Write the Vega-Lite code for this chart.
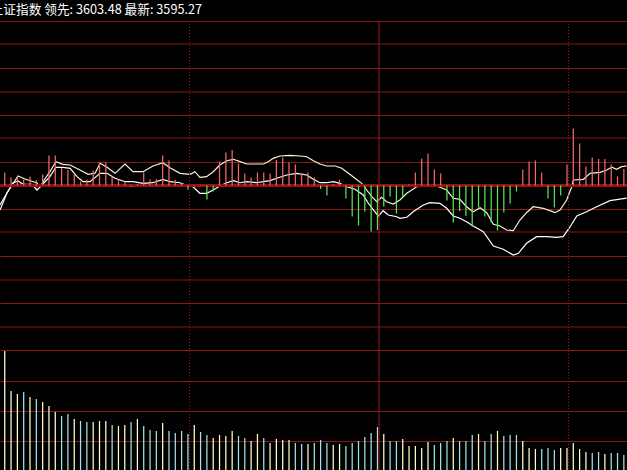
{
  "$schema": "https://vega.github.io/schema/vega-lite/v6.json",
  "autosize": "none",
  "width": 627,
  "height": 449,
  "padding": {"left": 0, "top": 21, "right": 0, "bottom": 0},
  "background": "#000000",
  "config": {"view": {"stroke": null}},
  "title": {"text": "上证指数 领先: 3603.48 最新: 3595.27", "anchor": "start", "dx": -7, "offset": -6, "baseline": "alphabetic", "fontSize": 12.7, "fontWeight": "normal", "font": "Noto Sans CJK SC", "color": "#ffffff"},
  "datasets": {
    "bars": [
      {"t":1.5,"s":13,"v":120,"d":"up"},{"t":3.5,"s":8,"v":80,"d":"up"},{"t":5.5,"s":9,"v":77,"d":"up"},{"t":7.5,"s":6,"v":79,"d":"down"},
      {"t":9.5,"s":9,"v":74,"d":"up"},{"t":11.5,"s":5.5,"v":72,"d":"down"},{"t":13.5,"s":11,"v":69,"d":"up"},{"t":15.5,"s":30,"v":65,"d":"up"},
      {"t":17.5,"s":30,"v":59,"d":"up"},{"t":19.5,"s":17.5,"v":55,"d":"down"},{"t":21.5,"s":15.5,"v":57,"d":"down"},{"t":23.5,"s":12,"v":52,"d":"up"},
      {"t":25.5,"s":4,"v":50,"d":"down"},{"t":27.5,"s":6,"v":49,"d":"down"},{"t":29.5,"s":15,"v":49,"d":"up"},{"t":31.5,"s":23,"v":50,"d":"up"},
      {"t":33.5,"s":23,"v":50,"d":"up"},{"t":35.5,"s":9,"v":46,"d":"down"},{"t":37.5,"s":6,"v":45,"d":"up"},{"t":39.5,"s":3,"v":46,"d":"up"},
      {"t":41.5,"s":-1,"v":49,"d":"down"},{"t":43.5,"s":1,"v":52,"d":"up"},{"t":45.5,"s":13,"v":45,"d":"down"},{"t":47.5,"s":6,"v":41,"d":"down"},
      {"t":49.5,"s":6.5,"v":40,"d":"down"},{"t":51.5,"s":30,"v":48,"d":"up"},{"t":53.5,"s":25,"v":40,"d":"down"},{"t":55.5,"s":5.5,"v":38,"d":"down"},
      {"t":57.5,"s":2,"v":40,"d":"down"},{"t":59.5,"s":-4,"v":37,"d":"down"},{"t":61.5,"s":0.5,"v":46,"d":"up"},{"t":63.5,"s":0.5,"v":39,"d":"down"},
      {"t":65.5,"s":-14,"v":36,"d":"down"},{"t":67.5,"s":-6,"v":33,"d":"up"},{"t":69.5,"s":24,"v":36,"d":"up"},{"t":71.5,"s":33,"v":35,"d":"up"},
      {"t":73.5,"s":35.5,"v":40,"d":"up"},{"t":75.5,"s":22,"v":35,"d":"down"},{"t":77.5,"s":12,"v":33,"d":"down"},{"t":79.5,"s":8,"v":30,"d":"up"},
      {"t":81.5,"s":13,"v":37,"d":"up"},{"t":83.5,"s":13,"v":33,"d":"down"},{"t":85.5,"s":12,"v":28,"d":"up"},{"t":87.5,"s":25.5,"v":32,"d":"up"},
      {"t":89.5,"s":28,"v":31,"d":"up"},{"t":91.5,"s":23,"v":31,"d":"up"},{"t":93.5,"s":21,"v":28,"d":"down"},{"t":95.5,"s":12,"v":27,"d":"down"},
      {"t":97.5,"s":13,"v":27,"d":"up"},{"t":99.5,"s":8,"v":28,"d":"down"},{"t":101.5,"s":-3.5,"v":31,"d":"down"},{"t":103.5,"s":-10,"v":28,"d":"down"},
      {"t":105.5,"s":1,"v":26,"d":"up"},{"t":107.5,"s":6,"v":27,"d":"up"},{"t":109.5,"s":-13,"v":25,"d":"down"},{"t":111.5,"s":-31,"v":28,"d":"down"},
      {"t":113.5,"s":-40,"v":30,"d":"down"},{"t":115.5,"s":-26,"v":34,"d":"down"},{"t":117.5,"s":-46,"v":38,"d":"down"},{"t":119.5,"s":-44.5,"v":44,"d":"down"},
      {"t":121.5,"s":-21,"v":37,"d":"up"},{"t":123.5,"s":-11,"v":30,"d":"down"},{"t":125.5,"s":-28,"v":30,"d":"down"},{"t":127.5,"s":-11,"v":32,"d":"up"},
      {"t":129.5,"s":1,"v":25,"d":"up"},{"t":131.5,"s":13,"v":25,"d":"up"},{"t":133.5,"s":27,"v":23,"d":"up"},{"t":135.5,"s":32,"v":29,"d":"up"},
      {"t":137.5,"s":16,"v":26,"d":"down"},{"t":139.5,"s":12,"v":28,"d":"down"},{"t":141.5,"s":-15,"v":30,"d":"down"},{"t":143.5,"s":-37,"v":33,"d":"up"},
      {"t":145.5,"s":-25.5,"v":30,"d":"down"},{"t":147.5,"s":-30.5,"v":30,"d":"down"},{"t":149.5,"s":-41,"v":36,"d":"down"},{"t":151.5,"s":-22,"v":37,"d":"up"},
      {"t":153.5,"s":-31,"v":30,"d":"down"},{"t":155.5,"s":-37,"v":37,"d":"down"},{"t":157.5,"s":-45,"v":40,"d":"up"},{"t":159.5,"s":-27,"v":35,"d":"down"},
      {"t":161.5,"s":-18,"v":36,"d":"down"},{"t":163.5,"s":-6,"v":36,"d":"down"},{"t":165.5,"s":16,"v":30,"d":"up"},{"t":167.5,"s":24,"v":23,"d":"up"},
      {"t":169.5,"s":25,"v":22,"d":"up"},{"t":171.5,"s":13,"v":22,"d":"down"},{"t":173.5,"s":-13,"v":23,"d":"down"},{"t":175.5,"s":-22,"v":21,"d":"down"},
      {"t":177.5,"s":-10,"v":23,"d":"up"},{"t":179.5,"s":21,"v":23,"d":"up"},{"t":181.5,"s":57,"v":28,"d":"up"},{"t":183.5,"s":42,"v":22,"d":"up"},
      {"t":185.5,"s":19,"v":19,"d":"up"},{"t":187.5,"s":28,"v":18,"d":"down"},{"t":189.5,"s":26.5,"v":19,"d":"down"},{"t":191.5,"s":26.5,"v":17,"d":"up"},
      {"t":193.5,"s":21,"v":18,"d":"down"},{"t":195.5,"s":9,"v":18,"d":"down"},{"t":197.5,"s":16.5,"v":16,"d":"down"}
    ],
    "lines": [
      {"t":0,"p":3593.52,"k":"领先"},{"t":2.2,"p":3596.59,"k":"领先"},{"t":5.7,"p":3600.93,"k":"领先"},{"t":7.9,"p":3600.16,"k":"领先"},
      {"t":11.7,"p":3599.14,"k":"领先"},{"t":12.7,"p":3598.19,"k":"领先"},{"t":14.2,"p":3600.16,"k":"领先"},{"t":15.8,"p":3602.02,"k":"领先"},
      {"t":17.7,"p":3604.58,"k":"领先"},{"t":19.9,"p":3603.91,"k":"领先"},{"t":22.2,"p":3603.73,"k":"领先"},{"t":25.3,"p":3602.46,"k":"领先"},
      {"t":27.9,"p":3601.36,"k":"领先"},{"t":30.1,"p":3601.61,"k":"领先"},{"t":31.7,"p":3604.17,"k":"领先"},{"t":33.9,"p":3603.15,"k":"领先"},
      {"t":36.4,"p":3601.61,"k":"领先"},{"t":39.6,"p":3603.99,"k":"领先"},{"t":42.1,"p":3602.02,"k":"领先"},{"t":45.3,"p":3602.02,"k":"领先"},
      {"t":48.4,"p":3603.48,"k":"领先"},{"t":51.6,"p":3604.32,"k":"领先"},{"t":53.8,"p":3603.04,"k":"领先"},{"t":57.0,"p":3601.61,"k":"领先"},
      {"t":60.2,"p":3601.36,"k":"领先"},{"t":61.7,"p":3602.02,"k":"领先"},{"t":63.3,"p":3600.59,"k":"领先"},{"t":65.4,"p":3600.75,"k":"领先"},
      {"t":67.5,"p":3602.02,"k":"领先"},{"t":69.6,"p":3603.73,"k":"领先"},{"t":71.8,"p":3604.83,"k":"领先"},{"t":73.9,"p":3605.19,"k":"领先"},
      {"t":76.0,"p":3604.58,"k":"领先"},{"t":78.1,"p":3603.99,"k":"领先"},{"t":83.4,"p":3603.99,"k":"领先"},{"t":84.9,"p":3604.58,"k":"领先"},
      {"t":86.5,"p":3605.44,"k":"领先"},{"t":88.6,"p":3606.03,"k":"领先"},{"t":91.8,"p":3606.21,"k":"领先"},{"t":95.0,"p":3606.03,"k":"领先"},
      {"t":97.1,"p":3605.85,"k":"领先"},{"t":99.2,"p":3604.83,"k":"领先"},{"t":101.3,"p":3603.99,"k":"领先"},{"t":103.4,"p":3603.48,"k":"领先"},
      {"t":106.1,"p":3603.48,"k":"领先"},{"t":108.2,"p":3602.89,"k":"领先"},{"t":110.3,"p":3601.61,"k":"领先"},{"t":112.4,"p":3600.34,"k":"领先"},
      {"t":114.5,"p":3599.06,"k":"领先"},{"t":116.1,"p":3597.35,"k":"领先"},{"t":117.7,"p":3595.64,"k":"领先"},{"t":119.3,"p":3594.36,"k":"领先"},
      {"t":120.8,"p":3595.49,"k":"领先"},{"t":122.4,"p":3594.36,"k":"领先"},{"t":124.5,"p":3593.78,"k":"领先"},{"t":126.6,"p":3594.8,"k":"领先"},
      {"t":128.8,"p":3596.51,"k":"领先"},{"t":131.9,"p":3598.19,"k":"领先"},{"t":135.1,"p":3598.37,"k":"领先"},{"t":138.3,"p":3598.37,"k":"领先"},
      {"t":141.4,"p":3597.35,"k":"领先"},{"t":143.5,"p":3595.23,"k":"领先"},{"t":145.6,"p":3594.98,"k":"领先"},{"t":147.7,"p":3593.09,"k":"领先"},
      {"t":149.8,"p":3591.81,"k":"领先"},{"t":152.0,"p":3592.83,"k":"领先"},{"t":154.1,"p":3591.56,"k":"领先"},{"t":156.2,"p":3588.59,"k":"领先"},
      {"t":158.3,"p":3588.16,"k":"领先"},{"t":160.4,"p":3587.14,"k":"领先"},{"t":162.5,"p":3586.96,"k":"领先"},{"t":164.6,"p":3589.69,"k":"领先"},
      {"t":166.7,"p":3591.56,"k":"领先"},{"t":168.8,"p":3593.09,"k":"领先"},{"t":172.0,"p":3592.68,"k":"领先"},{"t":174.1,"p":3592.07,"k":"领先"},
      {"t":175.7,"p":3591.56,"k":"领先"},{"t":177.3,"p":3592.25,"k":"领先"},{"t":179.4,"p":3594.8,"k":"领先"},{"t":181.0,"p":3598.19,"k":"领先"},
      {"t":181.5,"p":3599.9,"k":"领先"},{"t":184.7,"p":3600.08,"k":"领先"},{"t":186.8,"p":3601.61,"k":"领先"},{"t":190.0,"p":3601.87,"k":"领先"},
      {"t":192.1,"p":3602.46,"k":"领先"},{"t":193.7,"p":3603.15,"k":"领先"},{"t":195.2,"p":3602.64,"k":"领先"},{"t":196.8,"p":3603.3,"k":"领先"},
      {"t":198.4,"p":3603.48,"k":"领先"},
      {"t":0,"p":3592.25,"k":"最新"},{"t":2.2,"p":3596.59,"k":"最新"},{"t":4.1,"p":3599.14,"k":"最新"},{"t":5.7,"p":3599.65,"k":"最新"},
      {"t":7.3,"p":3598.81,"k":"最新"},{"t":10.1,"p":3598.81,"k":"最新"},{"t":11.7,"p":3597.35,"k":"最新"},{"t":13.3,"p":3598.63,"k":"最新"},
      {"t":15.8,"p":3600.75,"k":"最新"},{"t":17.7,"p":3603.15,"k":"最新"},{"t":19.9,"p":3603.15,"k":"最新"},{"t":22.2,"p":3602.89,"k":"最新"},
      {"t":24.4,"p":3600.75,"k":"最新"},{"t":26.3,"p":3599.47,"k":"最新"},{"t":28.5,"p":3599.47,"k":"最新"},{"t":31.7,"p":3601.61,"k":"最新"},
      {"t":33.9,"p":3601.61,"k":"最新"},{"t":36.4,"p":3600.34,"k":"最新"},{"t":39.6,"p":3599.47,"k":"最新"},{"t":42.1,"p":3599.47,"k":"最新"},
      {"t":45.3,"p":3599.06,"k":"最新"},{"t":48.4,"p":3599.21,"k":"最新"},{"t":51.6,"p":3600.08,"k":"最新"},{"t":53.8,"p":3599.47,"k":"最新"},
      {"t":57.0,"p":3599.21,"k":"最新"},{"t":59.5,"p":3598.37,"k":"最新"},{"t":61.1,"p":3598.19,"k":"最新"},{"t":63.3,"p":3596.51,"k":"最新"},
      {"t":65.4,"p":3596.51,"k":"最新"},{"t":67.5,"p":3597.35,"k":"最新"},{"t":69.6,"p":3598.37,"k":"最新"},{"t":71.8,"p":3599.21,"k":"最新"},
      {"t":73.9,"p":3599.73,"k":"最新"},{"t":76.0,"p":3599.21,"k":"最新"},{"t":78.1,"p":3599.47,"k":"最新"},{"t":81.3,"p":3599.21,"k":"最新"},
      {"t":83.4,"p":3599.47,"k":"最新"},{"t":85.5,"p":3599.73,"k":"最新"},{"t":87.6,"p":3600.34,"k":"最新"},{"t":90.8,"p":3601.18,"k":"最新"},
      {"t":93.9,"p":3601.61,"k":"最新"},{"t":97.1,"p":3601.18,"k":"最新"},{"t":99.2,"p":3600.08,"k":"最新"},{"t":101.3,"p":3599.21,"k":"最新"},
      {"t":103.4,"p":3599.21,"k":"最新"},{"t":105.5,"p":3599.47,"k":"最新"},{"t":107.6,"p":3599.06,"k":"最新"},{"t":109.8,"p":3598.19,"k":"最新"},
      {"t":112.4,"p":3597.53,"k":"最新"},{"t":115.0,"p":3596.07,"k":"最新"},{"t":116.6,"p":3593.96,"k":"最新"},{"t":118.2,"p":3592.25,"k":"最新"},
      {"t":119.8,"p":3590.71,"k":"最新"},{"t":121.3,"p":3592.07,"k":"最新"},{"t":122.9,"p":3590.97,"k":"最新"},{"t":125.6,"p":3590.53,"k":"最新"},
      {"t":126.6,"p":3590.13,"k":"最新"},{"t":128.8,"p":3590.38,"k":"最新"},{"t":130.8,"p":3591.81,"k":"最新"},{"t":134.0,"p":3593.52,"k":"最新"},
      {"t":136.1,"p":3594.11,"k":"最新"},{"t":139.3,"p":3593.96,"k":"最新"},{"t":141.4,"p":3592.68,"k":"最新"},{"t":143.5,"p":3590.71,"k":"最新"},
      {"t":145.6,"p":3590.13,"k":"最新"},{"t":147.7,"p":3589.26,"k":"最新"},{"t":149.8,"p":3588.16,"k":"最新"},{"t":153.0,"p":3586.7,"k":"最新"},
      {"t":156.2,"p":3583.05,"k":"最新"},{"t":159.3,"p":3582.21,"k":"最新"},{"t":162.5,"p":3580.76,"k":"最新"},{"t":164.1,"p":3581.19,"k":"最新"},
      {"t":166.7,"p":3583.74,"k":"最新"},{"t":169.9,"p":3585.43,"k":"最新"},{"t":173.1,"p":3585.43,"k":"最新"},{"t":176.2,"p":3585.27,"k":"最新"},
      {"t":178.3,"p":3585.43,"k":"最新"},{"t":180.5,"p":3587.98,"k":"最新"},{"t":182.6,"p":3590.71,"k":"最新"},{"t":185.7,"p":3591.81,"k":"最新"},
      {"t":188.9,"p":3593.09,"k":"最新"},{"t":193.1,"p":3594.62,"k":"最新"},{"t":198.4,"p":3595.27,"k":"最新"}
    ]
  },
  "layer": [
    {
      "layer": [
        {
          "data": {"name": "lines"},
          "mark": {"type": "line", "strokeWidth": 1.2, "interpolate": "linear"},
          "encoding": {
            "x": {"field": "t", "type": "quantitative", "scale": {"domain": [0, 198.5], "nice": false, "zero": false}, "axis": null},
            "y": {"field": "p", "type": "quantitative", "scale": {"domain": [3556.5, 3640.5], "range": [329, 0], "nice": false, "zero": false},
                  "axis": {"values": [3556.5,3568.5,3580.5,3592.5,3604.5,3616.5,3628.5,3640.5],
                           "grid": true, "gridColor": "#8a1616", "gridWidth": 1, "labels": false, "ticks": false, "domain": false, "title": null}},
            "color": {"field": "k", "type": "nominal", "scale": {"domain": ["领先", "最新"], "range": ["#f6f6d0", "#ffffff"]}, "legend": null},
            "detail": {"field": "k"}
          }
        },
        {
          "data": {"values": [{}]},
          "mark": {"type": "rule", "color": "#961212", "strokeWidth": 3},
          "encoding": {"y": {"datum": 3598.5, "type": "quantitative"}}
        }
      ]
    },
    {
      "data": {"name": "bars"},
      "mark": {"type": "rule", "strokeWidth": 1.25},
      "encoding": {
        "x": {"field": "t", "type": "quantitative", "axis": null},
        "y": {"field": "s", "type": "quantitative", "scale": {"domain": [-164.5, 164.5], "range": [329, 0], "nice": false, "zero": false},
              "axis": {"values": [-141, -94, -47, 47, 94, 141], "translate": 0, "grid": true, "gridColor": "#8a1616", "gridWidth": 1, "labels": false, "ticks": false, "domain": false, "title": null}},
        "y2": {"datum": 0},
        "color": {"condition": {"test": "datum.s > 0", "value": "#f06868"}, "value": "#5ae25a"}
      }
    },
    {
      "data": {"name": "bars"},
      "mark": {"type": "rule", "strokeWidth": 1.25},
      "encoding": {
        "x": {"field": "t", "type": "quantitative", "axis": null},
        "y": {"field": "v", "type": "quantitative", "scale": {"domain": [0, 121], "range": [450, 329], "nice": false, "zero": false},
              "axis": {"values": [30, 60, 90], "grid": true, "gridColor": "#8a1616", "labels": false, "ticks": false, "domain": false, "title": null}},
        "y2": {"datum": 0},
        "color": {"field": "d", "type": "nominal", "scale": {"domain": ["up", "down"], "range": ["#ffffcc", "#9ee6e6"]}, "legend": null}
      }
    },
    {
      "data": {"values": [{}]},
      "mark": {"type": "rule", "color": "#a01818", "strokeWidth": 1},
      "encoding": {"x": {"datum": 120, "type": "quantitative"}}
    },
    {
      "data": {"values": [{}]},
      "mark": {"type": "rule", "color": "#a01818", "strokeWidth": 1, "strokeDash": [1, 2]},
      "encoding": {"x": {"datum": 60, "type": "quantitative"}}
    },
    {
      "data": {"values": [{}]},
      "mark": {"type": "rule", "color": "#a01818", "strokeWidth": 1, "strokeDash": [1, 2]},
      "encoding": {"x": {"datum": 180, "type": "quantitative"}}
    }
  ],
  "resolve": {"scale": {"y": "independent", "color": "independent"}, "axis": {"y": "independent"}}
}
